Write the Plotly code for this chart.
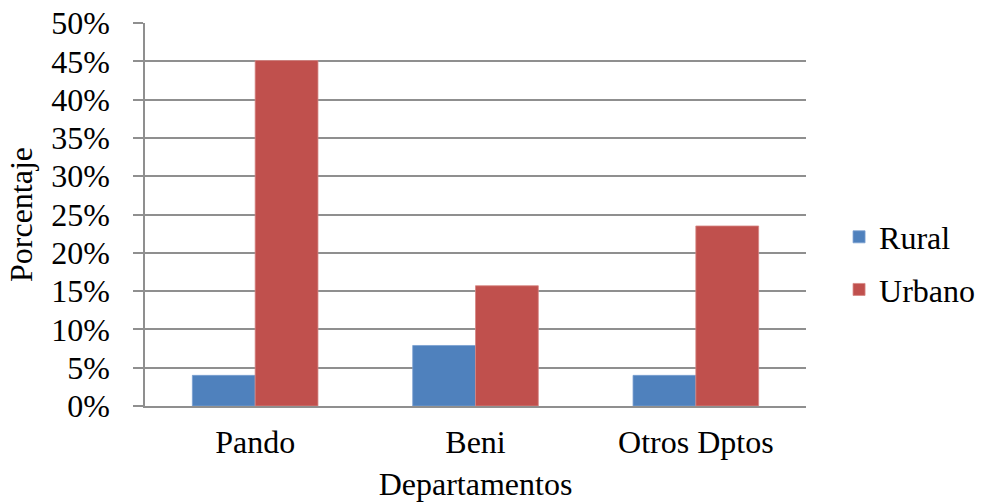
import plotly.graph_objects as go

categories = ["Pando", "Beni", "Otros Dptos"]
rural = [0.04, 0.079, 0.04]
urbano = [0.451, 0.157, 0.235]
series_names = ["Rural", "Urbano"]

FONT = "Times New Roman, Liberation Serif, serif"
GRID = "#8f8f8f"
TF = dict(family=FONT, size=32, color="black")

fig = go.Figure()
fig.add_trace(go.Bar(x=categories, y=rural, name=series_names[0], legendgroup="r",
                     marker=dict(color="#4F81BD", line=dict(color="#7a9fd0", width=0.8))))
fig.add_trace(go.Bar(x=categories, y=urbano, name=series_names[1], legendgroup="u",
                     marker=dict(color="#C0504D", line=dict(color="#d58583", width=0.8))))

fig.update_layout(
    width=984, height=502,
    margin=dict(l=145, r=178, t=23, b=96, autoexpand=False),
    paper_bgcolor="white", plot_bgcolor="white",
    font=TF,
    barmode="group", bargap=0.43, bargroupgap=0,
    legend=dict(x=1.05, xanchor="left", y=0.372, yanchor="middle",
                traceorder="grouped", tracegroupgap=8,
                font=TF, itemwidth=30,
                bgcolor="rgba(0,0,0,0)"),
    xaxis=dict(title=dict(text="Departamentos", standoff=19, font=TF),
               showline=True, linecolor=GRID, linewidth=1.5,
               showgrid=False, ticks="", tickfont=TF, ticklabelstandoff=7),
    yaxis=dict(title=dict(text="Porcentaje", standoff=9, font=TF),
               range=[0, 0.5], dtick=0.05, tickformat=".0%",
               showgrid=True, gridcolor=GRID, gridwidth=1.5,
               zeroline=False, showline=True, linecolor=GRID, linewidth=1.5,
               ticks="outside", ticklen=10, tickcolor=GRID, tickwidth=1.5,
               ticklabelstandoff=17, tickfont=TF),
)

fig.write_html("out.html", post_script="document.body.style.margin='0';",
               config={"displayModeBar": False})
